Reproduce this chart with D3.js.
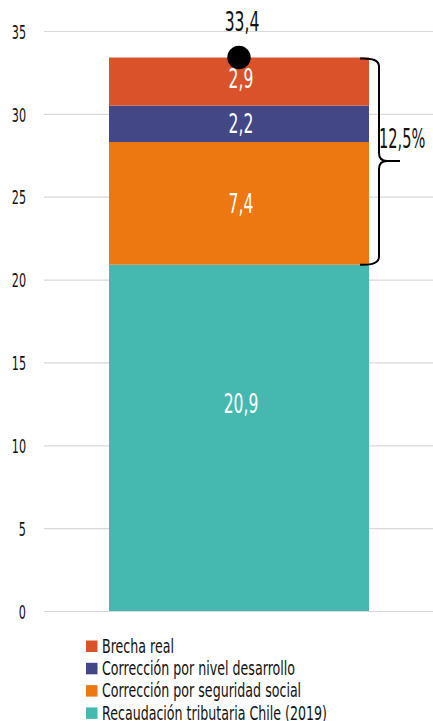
<!DOCTYPE html>
<html>
<head>
<meta charset="utf-8">
<script src="https://cdn.jsdelivr.net/npm/d3@7"></script>
<style>
  body { margin: 0; background: #fff; }
  svg text { font-family: "DejaVu Sans", sans-serif; }
</style>
</head>
<body>
<div id="chart"></div>
<script>
// data, bottom to top
var series = ["Recaudación tributaria Chile (2019)", "Corrección por seguridad social", "Corrección por nivel desarrollo", "Brecha real"];
var values = [20.9, 7.4, 2.2, 2.9];
var valueLabels = ["20,9", "7,4", "2,2", "2,9"];
var colors = ["#45b9af", "#ed7710", "#434786", "#da5229"];
var totalLabel = "33,4";
var braceLabel = "12,5%";
var yTicks = [0, 5, 10, 15, 20, 25, 30, 35];

var width = 433, height = 721;

var svg = d3.select("#chart").append("svg")
  .attr("width", width)
  .attr("height", height);

//y scale: 0 at 611, 35 at 31
var y = d3.scaleLinear()
  .domain([0, 35])
  .range([611, 31]);

// narrow text: DejaVu squeezed horizontally to look like the condensed face of the original
function narrowText(sel, x, y, sx) {
  sel.attr("x", 0).attr("y", 0)
    .attr("transform", "translate(" + x + "," + y + ") scale(" + sx + ",1)");
}

// gridlines + tick labels
var yAxis = d3.axisLeft(y)
  .tickValues(yTicks)
  .tickSize(-(433 - 44))
  .tickPadding(18)
  .tickFormat(d3.format("d"));

var gAxis = svg.append("g")
  .attr("transform", "translate(44,0)")
  .call(yAxis);
gAxis.select(".domain").remove();
gAxis.selectAll(".tick line").attr("stroke", "#d9d9d9").attr("stroke-width", 1.2);
gAxis.selectAll(".tick text")
  .attr("fill", "#111")
  .attr("dy", "0.36em")
  .style("font-size", "20px")
  .call(narrowText, -18, 0, 0.56);

// stack
var stacked = [];
var acc = 0;
for (var i = 0; i < values.length; i++) {
  stacked.push({ y0: acc, y1: acc + values[i], label: valueLabels[i], color: colors[i] });
  acc += values[i];
}

var barX = 109, barW = 260;

svg.append("g")
  .selectAll("rect")
  .data(stacked)
  .enter()
  .append("rect")
  .attr("x", barX)
  .attr("width", barW)
  .attr("y", function(d) { return y(d.y1); })
  .attr("height", function(d) { return y(d.y0) - y(d.y1); })
  .attr("fill", function(d) { return d.color; });

// label sits a bit above middle on the big base segment, like the original
svg.append("g")
  .selectAll("text")
  .data(stacked)
  .enter()
  .append("text")
  .attr("dy", "0.36em")
  .attr("text-anchor", "middle")
  .attr("fill", "#fff")
  .style("font-size", "26px")
  .each(function(d, i) {
    var f = i == 0 ? 0.6 : 0.5;
    var ly = y(d.y0 + (d.y1 - d.y0) * f) - (i == 3 ? 3 : 0);
    d3.select(this).call(narrowText, barX + barW / 2 + 2, ly, 0.6);
  })
  .text(function(d) { return d.label; });

// total marker
var total = acc;
svg.append("circle")
  .attr("cx", barX + barW / 2)
  .attr("cy", y(total))
  .attr("r", 11.7)
  .attr("fill", "#000");

svg.append("text")
  .attr("dy", "0.36em")
  .attr("text-anchor", "middle")
  .attr("fill", "#111")
  .style("font-size", "26px")
  .call(narrowText, barX + barW / 2 + 3, y(total) - 36, 0.6)
  .text(totalLabel);

// curly brace over the top three segments
var bTop = y(total) + 1, bBot = y(values[0]);
var bMid = 161;
var bx0 = 360, bx1 = 379, bTip = 400;
var brace = d3.path();
brace.moveTo(bx0, bTop);
brace.quadraticCurveTo(bx1, bTop - 1, bx1, bTop + 8);
brace.lineTo(bx1, bMid - 8);
brace.quadraticCurveTo(bx1, bMid, bx1 + 8, bMid);
brace.lineTo(bTip, bMid);
brace.moveTo(bx1 + 8, bMid);
brace.quadraticCurveTo(bx1, bMid, bx1, bMid + 8);
brace.lineTo(bx1, bBot - 8);
brace.quadraticCurveTo(bx1, bBot + 1, bx0, bBot);

svg.append("path")
  .attr("d", brace.toString())
  .attr("fill", "none")
  .attr("stroke", "#000")
  .attr("stroke-width", 2);

svg.append("text")
  .attr("dy", "0.36em")
  .attr("text-anchor", "start")
  .attr("fill", "#111")
  .style("font-size", "26px")
  .call(narrowText, 379, 139, 0.56)
  .text(braceLabel);

// legend, top to bottom is reverse of stack
var legendData = series.map(function(s, i) { return { name: s, color: colors[i] }; }).reverse();
var legend = svg.append("g")
  .selectAll("g")
  .data(legendData)
  .enter()
  .append("g")
  .attr("transform", function(d, i) { return "translate(86," + (646 + i * 22.3) + ")"; });

legend.append("rect")
  .attr("x", 0)
  .attr("y", -5.5)
  .attr("width", 11.5)
  .attr("height", 11.5)
  .attr("fill", function(d) { return d.color; });

legend.append("text")
  .attr("dy", "0.36em")
  .attr("fill", "#111")
  .style("font-size", "19px")
  .call(narrowText, 16, 0, 0.665)
  .text(function(d) { return d.name; });
</script>
</body>
</html>
